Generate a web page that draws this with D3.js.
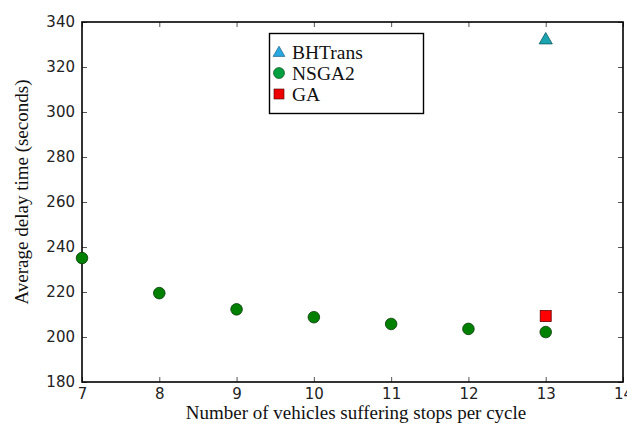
<!DOCTYPE html>
<html><head><meta charset="utf-8">
<script src="https://cdn.jsdelivr.net/npm/d3@7"></script>
<style>body{margin:0;background:#fff;}svg{display:block;}</style>
</head><body>
<svg id="c" width="627" height="434"></svg>
<script>
const xTicks = [7, 8, 9, 10, 11, 12, 13, 14];
const yTicks = [180, 200, 220, 240, 260, 280, 300, 320, 340];
const nsgaX = [7, 8, 9, 10, 11, 12, 13];
const nsgaY = [235.1, 219.5, 212.3, 208.8, 205.8, 203.6, 202.2];
const bhtX = [13];
const bhtY = [332.4];
const gaX = [13];
const gaY = [209.3];
const legendNames = ["BHTrans", "NSGA2", "GA"];

const svg = d3.select("#c");
const L = 82, R = 623, T = 22, B = 382;
const x = d3.scaleLinear().domain([7, 14]).range([L, R]);
const y = d3.scaleLinear().domain([180, 340]).range([B, T]);
const tickFont = "'DejaVu Sans', sans-serif";
const serif = "'Liberation Serif', 'Times New Roman', serif";

// axes with inward ticks
const gB = svg.append("g").attr("transform", `translate(0,${B})`)
  .call(d3.axisBottom(x).tickValues(xTicks).tickFormat(d3.format("d")).tickSizeInner(-5).tickSizeOuter(0).tickPadding(6));
const gT = svg.append("g").attr("transform", `translate(0,${T})`)
  .call(d3.axisTop(x).tickValues(xTicks).tickSizeInner(-5).tickSizeOuter(0).tickFormat(""));
const gL = svg.append("g").attr("transform", `translate(${L},0)`)
  .call(d3.axisLeft(y).tickValues(yTicks).tickFormat(d3.format("d")).tickSizeInner(-5).tickSizeOuter(0).tickPadding(7));
const gR = svg.append("g").attr("transform", `translate(${R},0)`)
  .call(d3.axisRight(y).tickValues(yTicks).tickSizeInner(-5).tickSizeOuter(0).tickFormat(""));
[gB, gT, gL, gR].forEach(g => {
  g.select(".domain").remove();
  g.selectAll(".tick line").attr("stroke", "#555").attr("stroke-width", 1);
  g.selectAll("text").attr("font-family", tickFont).attr("font-size", 15).attr("fill", "#222");
});

// frame
svg.append("rect").attr("x", L).attr("y", T).attr("width", R - L).attr("height", B - T)
  .attr("fill", "none").attr("stroke", "#000").attr("stroke-width", 1.6);

// data
svg.append("g").selectAll("circle").data(nsgaX).join("circle")
  .attr("cx", (d) => x(d)).attr("cy", (d, i) => y(nsgaY[i])).attr("r", 5.8)
  .attr("fill", "#008000").attr("stroke", "#0a3a0a").attr("stroke-width", 0.8);
svg.append("g").selectAll("rect").data(gaX).join("rect")
  .attr("x", (d) => x(d) - 5.5).attr("y", (d, i) => y(gaY[i]) - 5.5)
  .attr("width", 11).attr("height", 11)
  .attr("fill", "#ff0000").attr("stroke", "#600").attr("stroke-width", 0.8);
const tri = d3.symbol().type(d3.symbolTriangle).size(75);
svg.append("g").selectAll("path").data(bhtX).join("path")
  .attr("d", tri).attr("transform", (d, i) => `translate(${x(d)},${y(bhtY[i]) + 1})`)
  .attr("fill", "#1aa3b0").attr("stroke", "#0c5a60").attr("stroke-width", 0.8);

// legend
const lg = svg.append("g");
lg.append("rect").attr("x", 269.5).attr("y", 33.5).attr("width", 154).attr("height", 80)
  .attr("fill", "#fff").attr("stroke", "#000").attr("stroke-width", 1.4);
const rowY = [52, 73, 94];
lg.append("path").attr("d", d3.symbol().type(d3.symbolTriangle).size(60))
  .attr("transform", `translate(279,${rowY[0] + 1})`)
  .attr("fill", "#29a9e1").attr("stroke", "#0c4a70").attr("stroke-width", 0.6);
lg.append("circle").attr("cx", 279).attr("cy", rowY[1]).attr("r", 5.5)
  .attr("fill", "#00a040").attr("stroke", "#0a3a0a").attr("stroke-width", 0.6);
lg.append("rect").attr("x", 274).attr("y", rowY[2] - 5).attr("width", 10).attr("height", 10)
  .attr("fill", "#ee0000").attr("stroke", "#400").attr("stroke-width", 0.6);
lg.selectAll("text").data(legendNames).join("text")
  .attr("x", 292).attr("y", (d, i) => rowY[i] + 6.5)
  .attr("font-family", serif).attr("font-size", 19.5).attr("fill", "#111").text(d => d);

// axis titles
svg.append("text").attr("x", 356).attr("y", 419).attr("text-anchor", "middle")
  .attr("font-family", serif).attr("font-size", 19).attr("fill", "#111")
  .text("Number of vehicles suffering stops per cycle");
svg.append("text").attr("transform", `translate(28,192) rotate(-90)`)
  .attr("text-anchor", "middle")
  .attr("font-family", serif).attr("font-size", 19).attr("fill", "#111")
  .text("Average delay time (seconds)");
</script>
</body></html>
